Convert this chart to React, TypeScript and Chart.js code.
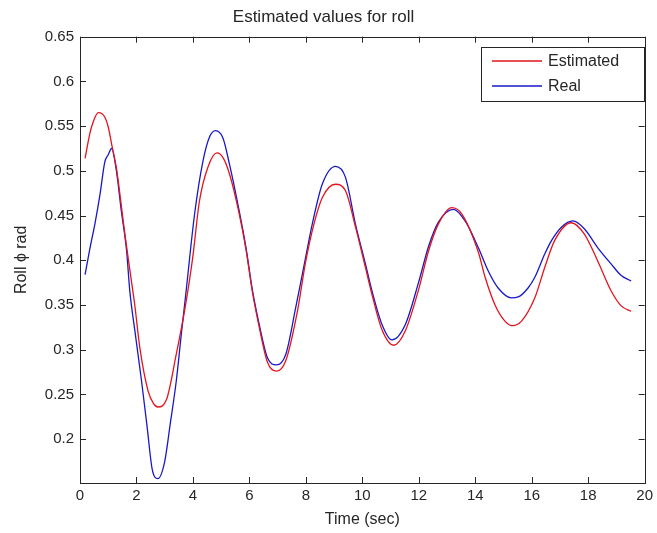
import React, { useEffect, useRef } from "react";
import { Chart, registerables } from "chart.js";

Chart.register(...registerables);

const chartTitle = "Estimated values for roll";
const xTitle = "Time (sec)";
const yTitle = "Roll \u03d5 rad";

const xTicks = [0, 2, 4, 6, 8, 10, 12, 14, 16, 18, 20];
const yTicks = [0.2, 0.25, 0.3, 0.35, 0.4, 0.45, 0.5, 0.55, 0.6, 0.65];

const estimatedLabel = "Estimated";
const estimatedTime = [
  0.18, 0.35, 0.47, 0.65, 0.88, 1.0, 1.12, 1.29, 1.46, 1.59, 1.82, 1.94, 2.12, 2.41, 2.6, 2.76,
  3.06, 3.41, 3.7, 3.85, 4.0, 4.23, 4.53, 4.85, 5.06, 5.29, 5.64, 5.88, 6.11, 6.35, 6.64, 6.96,
  7.29, 7.7, 7.99, 8.29, 8.58, 9.05, 9.4, 9.76, 10.11, 10.34, 10.7, 11.11, 11.52, 11.99, 12.35,
  12.7, 13.17, 13.52, 14.11, 14.35, 14.7, 15.05, 15.31, 15.64, 16.11, 16.46, 16.81, 17.4, 17.87,
  18.34, 18.81, 19.17, 19.52,
];
const estimatedValues = [
  0.514, 0.542, 0.555, 0.565, 0.56, 0.549, 0.53, 0.503, 0.462, 0.429, 0.377, 0.35, 0.302, 0.254,
  0.24, 0.236, 0.244, 0.295, 0.343, 0.372, 0.405, 0.466, 0.504, 0.52, 0.515, 0.497, 0.452, 0.412,
  0.364, 0.325, 0.286, 0.276, 0.288, 0.343, 0.398, 0.441, 0.47, 0.485, 0.478, 0.437, 0.392, 0.362,
  0.322, 0.305, 0.321, 0.367, 0.411, 0.441, 0.459, 0.452, 0.409, 0.381, 0.35, 0.332, 0.327, 0.332,
  0.358, 0.392, 0.422, 0.442, 0.429, 0.399, 0.366, 0.349, 0.343,
];

const realLabel = "Real";
const realTime = [
  0.18, 0.35, 0.53, 0.71, 0.88, 1.0, 1.12, 1.29, 1.46, 1.65, 1.76, 1.97, 2.18, 2.38, 2.56, 2.76,
  3.0, 3.2, 3.41, 3.58, 3.76, 4.06, 4.35, 4.59, 4.8, 5.06, 5.29, 5.64, 5.88, 6.11, 6.35, 6.64,
  6.96, 7.29, 7.64, 7.99, 8.23, 8.58, 9.05, 9.4, 9.76, 10.11, 10.34, 10.7, 11.05, 11.52, 11.99,
  12.35, 12.7, 13.23, 13.64, 14.11, 14.46, 14.81, 15.28, 15.52, 15.87, 16.11, 16.46, 16.7, 17.05,
  17.46, 17.87, 18.34, 18.81, 19.17, 19.52,
];
const realValues = [
  0.384, 0.413, 0.441, 0.474, 0.51, 0.518, 0.525, 0.5, 0.456, 0.411, 0.367, 0.315, 0.265, 0.213,
  0.166, 0.156, 0.175, 0.218, 0.265, 0.315, 0.366, 0.452, 0.51, 0.538, 0.545, 0.537, 0.508, 0.455,
  0.414, 0.366, 0.328, 0.291, 0.283, 0.295, 0.347, 0.403, 0.441, 0.485, 0.505, 0.493, 0.44, 0.396,
  0.366, 0.328, 0.311, 0.328, 0.375, 0.416, 0.443, 0.457, 0.444, 0.414, 0.388, 0.369, 0.358, 0.359,
  0.369, 0.381, 0.407, 0.422, 0.437, 0.444, 0.435, 0.414, 0.396, 0.383, 0.377,
];

const RED = "#e3141c";
const BLUE = "#1818c8";
const INK = "#262626";
const FONT = "'Liberation Sans', Arial, Helvetica, sans-serif";

const boxAndTicks = {
  id: "boxAndTicks",
  afterDatasetsDraw(chart: any) {
    const { ctx, chartArea } = chart;
    const { left, right, top, bottom } = chartArea;
    const xs = chart.scales.x;
    const ys = chart.scales.y;
    const len = 6;
    ctx.save();
    ctx.strokeStyle = INK;
    ctx.lineWidth = 1;
    ctx.beginPath();
    for (const v of xTicks) {
      const px = Math.round(xs.getPixelForValue(v)) + 0.5;
      ctx.moveTo(px, bottom);
      ctx.lineTo(px, bottom - len);
      ctx.moveTo(px, top);
      ctx.lineTo(px, top + len);
    }
    for (const v of yTicks) {
      const py = Math.round(ys.getPixelForValue(v)) + 0.5;
      ctx.moveTo(left, py);
      ctx.lineTo(left + len, py);
      ctx.moveTo(right, py);
      ctx.lineTo(right - len, py);
    }
    ctx.stroke();
    ctx.strokeRect(Math.round(left) + 0.5, Math.round(top) + 0.5, Math.round(right - left), Math.round(bottom - top));

    // legend box
    const bx = 481, by = 47, bw = 163, bh = 54;
    ctx.fillStyle = "#ffffff";
    ctx.fillRect(bx, by, bw, bh);
    ctx.strokeStyle = INK;
    ctx.lineWidth = 1;
    ctx.strokeRect(bx + 0.5, by + 0.5, bw, bh);
    const items = [
      { label: estimatedLabel, color: RED, y: 61 },
      { label: realLabel, color: BLUE, y: 86 },
    ];
    ctx.font = `16px ${FONT}`;
    ctx.textBaseline = "middle";
    ctx.textAlign = "left";
    for (const it of items) {
      ctx.beginPath();
      ctx.strokeStyle = it.color;
      ctx.lineWidth = 1.3;
      ctx.moveTo(492, it.y);
      ctx.lineTo(542, it.y);
      ctx.stroke();
      ctx.fillStyle = INK;
      ctx.fillText(it.label, 548, it.y + 1);
    }
    ctx.restore();
  },
};

export default function App() {
  const ref = useRef<HTMLCanvasElement | null>(null);
  useEffect(() => {
    if (!ref.current) return;
    const chart = new Chart(ref.current, {
      type: "line",
      data: {
        datasets: [
          {
            label: estimatedLabel,
            data: estimatedTime.map((t, i) => ({ x: t, y: estimatedValues[i] })),
            borderColor: RED,
            borderWidth: 1.3,
            pointRadius: 0,
            fill: false,
            cubicInterpolationMode: "monotone",
          },
          {
            label: realLabel,
            data: realTime.map((t, i) => ({ x: t, y: realValues[i] })),
            borderColor: BLUE,
            borderWidth: 1.3,
            pointRadius: 0,
            fill: false,
            cubicInterpolationMode: "monotone",
          },
        ],
      },
      options: {
        animation: false,
        responsive: false,
        devicePixelRatio: 1,
        layout: { padding: { left: 0, right: 10, top: 0, bottom: 0 } },
        plugins: {
          legend: { display: false },
          tooltip: { enabled: false },
          title: {
            display: true,
            text: chartTitle,
            color: INK,
            font: { family: FONT, size: 17, weight: "normal" },
            padding: { top: 7.5, bottom: 8.8 },
          },
        },
        scales: {
          x: {
            type: "linear",
            min: 0,
            max: 20,
            grid: { display: false, drawTicks: false },
            border: { display: false },
            afterBuildTicks: (s: any) => {
              s.ticks = xTicks.map((v) => ({ value: v }));
            },
            afterFit: (s: any) => {
              s.height = 50;
            },
            ticks: {
              color: INK,
              font: { family: FONT, size: 15 },
              padding: 4,
              maxRotation: 0,
              autoSkip: false,
              callback: (v: any) => String(v),
            },
            title: {
              display: true,
              text: xTitle,
              color: INK,
              font: { family: FONT, size: 16 },
              padding: { top: 0, bottom: 3.4 },
            },
          },
          y: {
            type: "linear",
            min: 0.151,
            max: 0.65,
            grid: { display: false, drawTicks: false },
            border: { display: false },
            afterBuildTicks: (s: any) => {
              s.ticks = yTicks.map((v) => ({ value: v }));
            },
            afterFit: (s: any) => {
              s.width = 80;
            },
            ticks: {
              color: INK,
              font: { family: FONT, size: 15 },
              padding: 6,
              autoSkip: false,
              callback: (v: any) => String(Math.round(v * 100) / 100),
            },
            title: {
              display: true,
              text: yTitle,
              color: INK,
              font: { family: FONT, size: 16 },
              padding: { top: 11.9, bottom: 0 },
            },
          },
        },
      },
      plugins: [boxAndTicks],
    });
    return () => chart.destroy();
  }, []);
  return (
    <div style={{ position: "fixed", left: 0, top: 0, width: 657, height: 533, background: "#ffffff" }}>
      <canvas ref={ref} width={657} height={533} style={{ display: "block" }} />
    </div>
  );
}
